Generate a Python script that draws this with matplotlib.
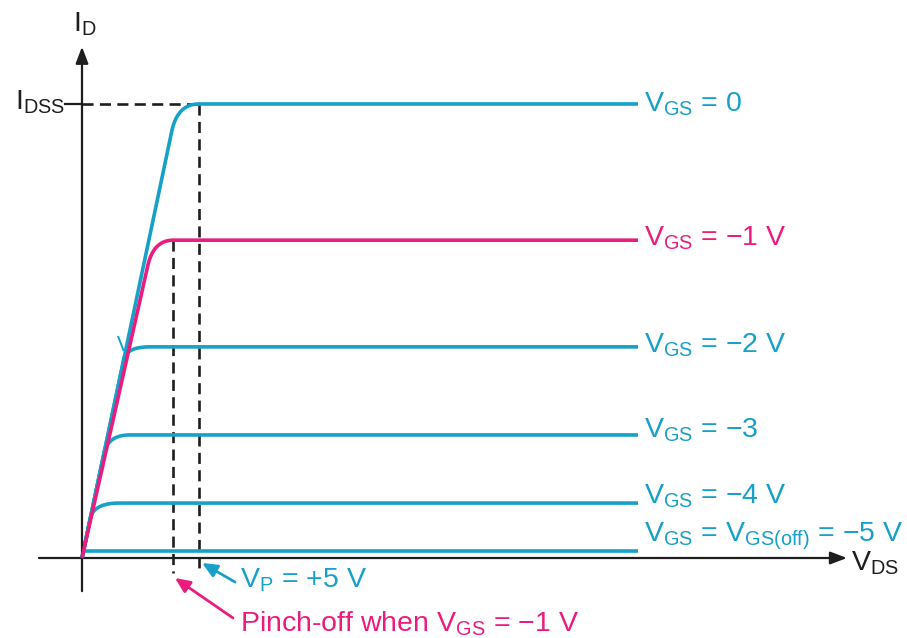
import numpy as np
import matplotlib
matplotlib.use("Agg")
import matplotlib.pyplot as plt
from matplotlib import font_manager

# n-channel JFET drain characteristics (I_D in mA against V_DS in V)
vgs_labels = [
    "V$_{\\mathrm{GS}}$ = 0",
    "V$_{\\mathrm{GS}}$ = \u22121 V",
    "V$_{\\mathrm{GS}}$ = \u22122 V",
    "V$_{\\mathrm{GS}}$ = \u22123",
    "V$_{\\mathrm{GS}}$ = \u22124 V",
    "V$_{\\mathrm{GS}}$ = V$_{\\mathrm{GS(off)}}$ = \u22125 V",
]
i_sat = [10.0, 7.0, 4.65, 2.71, 1.21, 0.15]          # saturation current of each curve
v_knee_end = [5.0, 3.9, 2.9, 2.05, 1.6, 0.0]        # V_DS where each curve levels off
ohmic_slope = [2.45, 2.29, 2.45, 2.45, 2.45, 2.45]  # slope of the ohmic rise
knee_frac = [0.94, 0.92, 0.94, 0.85, 0.72, 1.0]     # fraction of I_sat where the bend starts
v_end = 23.76                                       # right end of the curves
idss = 10.0
vp = 5.0
v_pinch_m1 = 3.9

BLUE = "#17a0c8"
PINK = "#ea1c7d"
INK = "#1e1e1e"
curve_colors = [BLUE, PINK, BLUE, BLUE, BLUE, BLUE]

available = {f.name for f in font_manager.fontManager.ttflist}
family = "Liberation Sans Narrow" if "Liberation Sans Narrow" in available else "Liberation Sans"
fs = 23 if family == "Liberation Sans Narrow" else 20.5
plt.rcParams["font.family"] = [family, "DejaVu Sans"]
plt.rcParams["mathtext.fontset"] = "custom"
plt.rcParams["mathtext.rm"] = family
plt.rcParams["mathtext.it"] = family
plt.rcParams["mathtext.default"] = "rm"

fig = plt.figure(figsize=(9.07, 6.38), dpi=100)
ax = fig.add_axes([0, 0, 1, 1])
ax.set_xlim(-3.504, 35.256)
ax.set_ylim(-1.762, 12.29)
ax.axis("off")


def characteristic(isat, vk, slope, frac):
    if vk == 0:
        return np.array([0.0, v_end]), np.array([isat, isat])
    i0 = frac * isat
    v0 = i0 / slope
    vc = isat / slope
    t = np.linspace(0, 1, 80)
    bx = (1 - t) ** 2 * v0 + 2 * (1 - t) * t * vc + t ** 2 * vk
    by = (1 - t) ** 2 * i0 + 2 * (1 - t) * t * isat + t ** 2 * isat
    x = np.concatenate([[0.0], bx, [v_end]])
    y = np.concatenate([[0.0], by, [isat]])
    return x, y


# axes with arrowheads
arrow_style = dict(arrowstyle="-|>,head_length=1.0,head_width=0.38",
                   mutation_scale=10, lw=1.6, color=INK, shrinkA=0, shrinkB=0)
ax.annotate("", xy=(0, 11.26), xytext=(0, -0.73), arrowprops=arrow_style)
ax.annotate("", xy=(32.69, 0), xytext=(-1.84, 0), arrowprops=arrow_style)

# dashed guide lines
dash = dict(color=INK, lw=1.9, dashes=(4.2, 2.4))
ax.plot([0, vp], [idss, idss], **dash)
ax.plot([vp, vp], [idss, -0.33], **dash)
ax.plot([v_pinch_m1, v_pinch_m1], [i_sat[1], -0.33], **dash)
ax.plot([-0.73, 0], [idss, idss], color=INK, lw=1.6)

# curves: blue first, pink on top
order = [0, 2, 3, 4, 5, 1]
for k in order:
    x, y = characteristic(i_sat[k], v_knee_end[k], ohmic_slope[k], knee_frac[k])
    ax.plot(x, y, color=curve_colors[k], lw=2.6, solid_capstyle="butt",
            zorder=3 if k == 1 else 2)
# small stroke beside the V_GS = -2 V knee
ax.plot([1.55, 1.77], [4.87, 4.58], color=BLUE, lw=1.4, zorder=2)

# curve labels
label_dy = [8, 5, 6, 3, 0, -10]
for k in range(len(i_sat)):
    ax.annotate(vgs_labels[k], xy=(24.0, i_sat[k]), xytext=(0, -label_dy[k]),
                textcoords="offset pixels", ha="left", va="baseline",
                color=curve_colors[k], fontsize=fs)

# axis labels
ax.text(-0.385, 11.59, "I$_{\\mathrm{D}}$", color=INK, fontsize=fs,
        ha="left", va="baseline")
ax.text(-0.73, 9.87, "I$_{\\mathrm{DSS}}$", color=INK, fontsize=fs,
        ha="right", va="baseline")
ax.text(32.86, -0.27, "V$_{\\mathrm{DS}}$", color=INK, fontsize=fs,
        ha="left", va="baseline")

# pinch-off annotations
ann_style = dict(arrowstyle="-|>,head_length=0.9,head_width=0.4",
                 mutation_scale=10, lw=2.0, shrinkA=0, shrinkB=0)
ax.annotate("", xy=(5.13, -0.11), xytext=(6.54, -0.53),
            arrowprops=dict(color=BLUE, **ann_style))
ax.text(6.75, -0.66, "V$_{\\mathrm{P}}$ = +5 V", color=BLUE, fontsize=fs,
        ha="left", va="baseline")
ax.annotate("", xy=(3.97, -0.44), xytext=(6.45, -1.32),
            arrowprops=dict(color=PINK, **ann_style))
ax.text(6.75, -1.61, "Pinch-off when V$_{\\mathrm{GS}}$ = \u22121 V", color=PINK,
        fontsize=fs, ha="left", va="baseline")

fig.savefig("out.png", dpi=100)
